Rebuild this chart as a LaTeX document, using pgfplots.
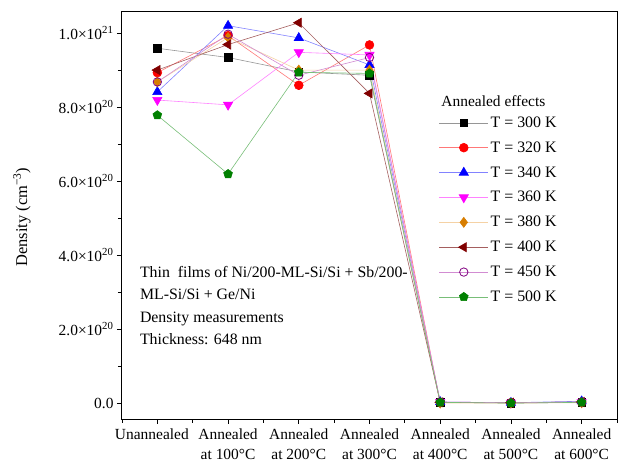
\documentclass[border=0pt]{standalone}
\usepackage{fontspec}
\setmainfont{Liberation Serif}
\usepackage{pgfplots}
\pgfplotsset{compat=1.18}
\usetikzlibrary{plotmarks}
\definecolor{c300}{RGB}{0,0,0}
\definecolor{l300}{RGB}{150,150,150}
\definecolor{c320}{RGB}{255,0,0}
\definecolor{l320}{RGB}{255,120,120}
\definecolor{c340}{RGB}{0,0,255}
\definecolor{l340}{RGB}{130,130,255}
\definecolor{c360}{RGB}{255,0,255}
\definecolor{l360}{RGB}{255,130,255}
\definecolor{c380}{RGB}{215,125,0}
\definecolor{l380}{RGB}{245,210,165}
\definecolor{c400}{RGB}{128,0,0}
\definecolor{l400}{RGB}{165,95,95}
\definecolor{c450}{RGB}{128,0,128}
\definecolor{l450}{RGB}{210,140,210}
\definecolor{c500}{RGB}{0,128,0}
\definecolor{l500}{RGB}{120,190,120}
\begin{document}
\begin{tikzpicture}
\useasboundingbox (-122bp,-44bp) rectangle (496bp,419bp);
\begin{axis}[
  at={(0,0)}, anchor=south west,
  scale only axis,
  width=495bp, height=407bp,
  xmin=-0.5, xmax=6.5,
  ymin=-0.43, ymax=10.57,
  xtick={0,1,2,3,4,5,6},
  minor xtick={-0.5,0.5,1.5,2.5,3.5,4.5,5.5,6.5},
  xticklabels={Unannealed\hspace*{11bp},{Annealed\\at 100°C},{Annealed\\at 200°C},{Annealed\\at 300°C},{Annealed\\at 400°C},{Annealed\\at 500°C},{Annealed\\at 600°C}},
  x tick label style={align=center, font=\fontsize{15.5}{19.5}\selectfont, anchor=north, yshift=-1.5bp},
  ytick={0,2,4,6,8,10},
  minor ytick={1,3,5,7,9},
  yticklabels={0.0,{2.0×10\textsuperscript{20}},{4.0×10\textsuperscript{20}},{6.0×10\textsuperscript{20}},{8.0×10\textsuperscript{20}},{1.0×10\textsuperscript{21}}},
  y tick label style={font=\fontsize{15.5}{18}\selectfont},
  tick align=outside,
  major tick length=5bp, minor tick length=4bp,
  tick style={black, line width=0.8pt},
  xtick pos=bottom, ytick pos=left,
  axis line style={line width=1pt},
  ylabel={Density (cm\textsuperscript{−3})},
  every axis y label/.style={at={(rel axis cs:0,0.496)}, rotate=90, anchor=center, yshift=100bp, font=\fontsize{16.5}{19}\selectfont},
  clip=false,
  legend style={draw=none, fill=none, at={(rel axis cs:0.64,0.748)}, anchor=north west,
    font=\fontsize{16}{19}\selectfont, row sep=8.8bp, inner sep=0pt},
  legend cell align=left,
  legend image code/.code={\draw[mark repeat=2,mark phase=2] plot coordinates {(0bp,0bp) (24.5bp,0bp) (49bp,0bp)};},
  every axis plot/.append style={line width=0.6pt},
]
\addplot[l300, mark=square*, mark size=3.8bp, mark options={c300, fill=c300}] coordinates {(0,9.59) (1,9.34) (2,8.95) (3,8.86) (4,0.02) (5,0.0) (6,0.02)};
\addlegendentry{T = 300 K}
\addplot[l320, mark=*, mark size=4.4bp, mark options={c320, fill=c320}] coordinates {(0,8.93) (1,9.93) (2,8.59) (3,9.68) (4,0.02) (5,0.01) (6,0.02)};
\addlegendentry{T = 320 K}
\addplot[l340, mark=triangle*, mark size=5.3bp, mark options={c340, fill=c340}] coordinates {(0,8.41) (1,10.2) (2,9.87) (3,9.14) (4,0.03) (5,0.01) (6,0.05)};
\addlegendentry{T = 340 K}
\addplot[l360, mark=triangle*, mark size=5.3bp, mark options={c360, fill=c360, rotate=180}] coordinates {(0,8.19) (1,8.06) (2,9.48) (3,9.41) (4,0.03) (5,0.01) (6,0.02)};
\addlegendentry{T = 360 K}
\addplot[l380, mark=diamond*, mark size=5bp, mark options={c380, fill=c380}] coordinates {(0,8.68) (1,9.88) (2,9.0) (3,9.0) (4,0.0) (5,0.0) (6,0.01)};
\addlegendentry{T = 380 K}
\addplot[l400, mark=triangle*, mark size=5.3bp, mark options={c400, fill=c400, rotate=90}] coordinates {(0,9.0) (1,9.69) (2,10.28) (3,8.37) (4,0.02) (5,0.01) (6,0.03)};
\addlegendentry{T = 400 K}
\addplot[l450, mark=o, mark size=4.2bp, mark options={c450, fill=white, line width=0.8pt}] coordinates {(0,8.68) (1,9.97) (2,8.86) (3,9.34) (4,0.03) (5,0.01) (6,0.03)};
\addlegendentry{T = 450 K}
\addplot[l500, mark=pentagon*, mark size=4.6bp, mark options={c500, fill=c500}] coordinates {(0,7.78) (1,6.19) (2,8.94) (3,8.91) (4,0.02) (5,0.0) (6,0.02)};
\addlegendentry{T = 500 K}
\node[anchor=north west, inner sep=0pt, align=left, font=\fontsize{15.9}{22.5}\selectfont] at (rel axis cs:0.036,0.376)
  {Thin\ \ films of Ni/200-ML-Si/Si + Sb/200-\\ML-Si/Si + Ge/Ni\\Density measurements\\Thickness: 648 nm};
\node[anchor=north west, inner sep=0pt, font=\fontsize{15.5}{18}\selectfont] at (rel axis cs:0.645,0.795) {Annealed effects};
\end{axis}
\end{tikzpicture}
\end{document}
